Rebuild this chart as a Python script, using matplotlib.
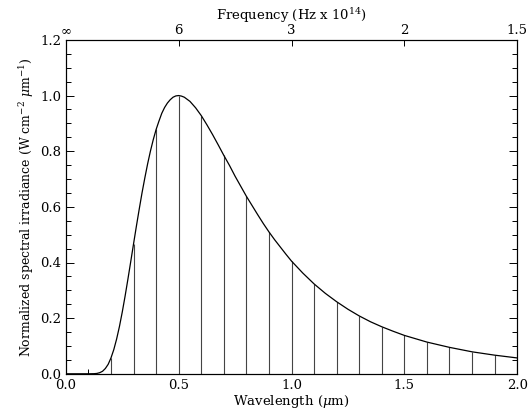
import matplotlib
matplotlib.use("Agg")
import matplotlib.pyplot as plt
from matplotlib.ticker import MultipleLocator, FormatStrFormatter

# 曲线读数 (波长 µm, 归一化辐照度)
wavelength = [0.00, 0.05, 0.10, 0.125, 0.1375, 0.15, 0.1625, 0.175, 0.1875,
              0.20, 0.2125, 0.225, 0.2375, 0.25, 0.2625, 0.275, 0.2875,
              0.30, 0.3125, 0.325, 0.3375, 0.35, 0.3625, 0.375, 0.3875,
              0.40, 0.4125, 0.425, 0.4375, 0.45, 0.4625, 0.475, 0.4875,
              0.50, 0.5125, 0.525, 0.55, 0.575, 0.60, 0.625, 0.65, 0.675,
              0.70, 0.725, 0.75, 0.775, 0.80, 0.825, 0.85, 0.875, 0.90,
              0.925, 0.95, 0.975, 1.00, 1.05, 1.10, 1.15, 1.20, 1.25,
              1.30, 1.35, 1.40, 1.45, 1.50, 1.60, 1.70, 1.80, 1.90, 2.00]
irradiance = [0.000, 0.000, 0.000, 0.0004, 0.0013, 0.004, 0.009, 0.019, 0.034,
              0.057, 0.087, 0.125, 0.170, 0.222, 0.279, 0.340, 0.403,
              0.467, 0.530, 0.591, 0.650, 0.704, 0.755, 0.801, 0.842,
              0.878, 0.908, 0.936, 0.957, 0.973, 0.985, 0.994, 0.9987,
              1.000, 0.998, 0.994, 0.979, 0.956, 0.928, 0.895, 0.860, 0.823,
              0.785, 0.749, 0.710, 0.674, 0.638, 0.605, 0.572, 0.540, 0.510,
              0.482, 0.456, 0.430, 0.405, 0.362, 0.323, 0.289, 0.259, 0.232,
              0.208, 0.187, 0.169, 0.153, 0.138, 0.114, 0.095, 0.079, 0.067, 0.057]

# 竖线位置 (0.2 … 2.0, 步长 0.1)
strip_wl = [0.2, 0.3, 0.4, 0.5, 0.6, 0.7, 0.8, 0.9, 1.0, 1.1,
            1.2, 1.3, 1.4, 1.5, 1.6, 1.7, 1.8, 1.9, 2.0]

# 顶轴频率刻度
freq_pos = [0.0, 0.5, 1.0, 1.5, 2.0]
freq_labels = [r"$\infty$", "6", "3", "2", "1.5"]

plt.rcParams["font.family"] = ["DejaVu Serif"]
plt.rcParams["mathtext.fontset"] = "dejavuserif"

fig = plt.figure(figsize=(5.31, 4.2), dpi=100)
ax = fig.add_axes([0.124, 0.11, 0.850, 0.795])

strip_val = [irradiance[wavelength.index(w)] for w in strip_wl]
ax.vlines(strip_wl, 0, strip_val, colors="#444444", linewidth=0.8)
ax.plot(wavelength, irradiance, color="black", linewidth=0.9)

ax.set_xlim(0, 2.0)
ax.set_ylim(0, 1.2)
ax.xaxis.set_major_locator(MultipleLocator(0.5))
ax.xaxis.set_minor_locator(MultipleLocator(0.1))
ax.yaxis.set_major_locator(MultipleLocator(0.2))
ax.yaxis.set_minor_locator(MultipleLocator(0.05))
ax.xaxis.set_major_formatter(FormatStrFormatter("%.1f"))
ax.yaxis.set_major_formatter(FormatStrFormatter("%.1f"))
ax.tick_params(which="both", direction="in", top=False, right=True, labelsize=9.5,
               width=0.7)
ax.tick_params(which="major", length=6)
ax.tick_params(which="minor", length=3.5)
for s in ax.spines.values():
    s.set_linewidth(0.8)

ax.set_xlabel(r"Wavelength ($\mu$m)", fontsize=9.5, labelpad=1)
ax.set_ylabel(r"Normalized spectral irradiance (W cm$^{-2}$ $\mu$m$^{-1}$)",
              fontsize=9, labelpad=3)

top = ax.twiny()
top.set_xlim(ax.get_xlim())
top.set_xticks(freq_pos)
top.set_xticklabels(freq_labels)
top.tick_params(direction="in", length=4, width=0.7, labelsize=9.5, pad=2)
top.set_xlabel(r"Frequency (Hz x 10$^{14}$)", fontsize=9.5, labelpad=3)

fig.savefig("out.png", dpi=100)
